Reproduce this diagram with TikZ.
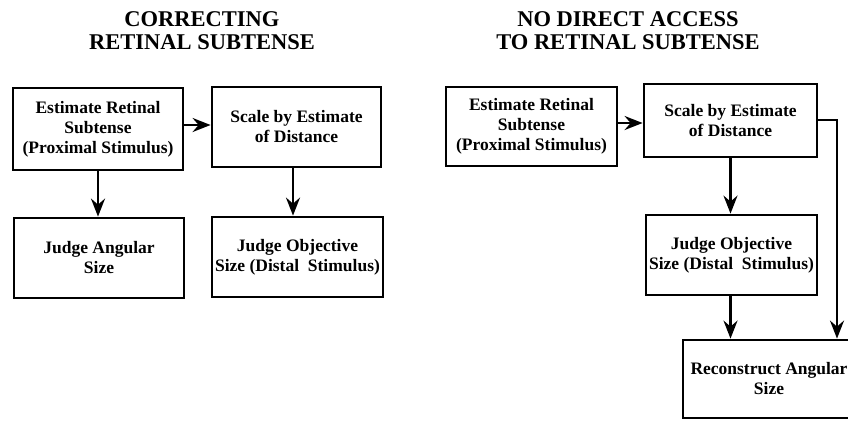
\documentclass[tikz,border=0pt]{standalone}
\usepackage{fontspec}
\setmainfont{Liberation Serif}
\usetikzlibrary{arrows.meta}
\begin{document}
\begin{tikzpicture}[x=1pt,y=-1pt,
  box/.style={draw,line width=2.8pt,inner sep=0pt,align=center,
    font=\fontsize{17.5}{20}\selectfont\bfseries},
  ttl/.style={inner sep=0pt,align=center,font=\fontsize{22.5}{23}\selectfont\bfseries},
  arr/.style={line width=2.5pt,-{Stealth[length=18pt,width=14pt,inset=6pt]}}]
\useasboundingbox (0,0) rectangle (848,421);
\clip (0,0) rectangle (848,421);
% titles
\node[ttl] (t1) at (202,31) {CORRECTING\\RETINAL SUBTENSE};
\node[ttl] (t2) at (628,31) {NO DIRECT ACCESS\\TO RETINAL SUBTENSE};
% left panel
\node[box,minimum width=170pt,minimum height=82pt] (A) at (98,129) {Estimate Retinal\\Subtense\\(Proximal Stimulus)};
\node[box,minimum width=169pt,minimum height=80pt] (B) at (296.5,127) {Scale by Estimate\\of Distance};
\node[box,minimum width=170pt,minimum height=80pt] (C) at (99,258) {Judge Angular\\Size};
\node[box,minimum width=171pt,minimum height=80pt] (D) at (297.5,257) {Judge Objective\\Size (Distal~~Stimulus)};
% right panel
\node[box,minimum width=171pt,minimum height=79pt] (E) at (531.5,126.5) {Estimate Retinal\\Subtense\\(Proximal Stimulus)};
\node[box,minimum width=173pt,minimum height=73pt] (F) at (730.5,120.5) {Scale by Estimate\\of Distance};
\node[box,minimum width=171pt,minimum height=80pt] (G) at (731.5,255) {Judge Objective\\Size (Distal~~Stimulus)};
\node[box,minimum width=172pt,minimum height=78pt] (H) at (769,379) {Reconstruct Angular\\Size};
% connectors
\coordinate (ab) at (0,125);
\coordinate (bd) at (293,0);
\coordinate (ef) at (0,123);
\coordinate (corner) at (837,120);
\draw[arr] (A.east |- ab) -- (B.west |- ab);
\draw[arr] (A.south) -- (C.north -| A.south);
\draw[arr] (B.south -| bd) -- (D.north -| bd);
\draw[arr] (E.east |- ef) -- (F.west |- ef);
\draw[arr] (F.south) -- (G.north -| F.south);
\draw[arr] (G.south -| F.south) -- (H.north -| F.south);
\draw[arr] (F.east |- corner) -- (corner) -- (corner |- H.north);
\end{tikzpicture}
\end{document}
